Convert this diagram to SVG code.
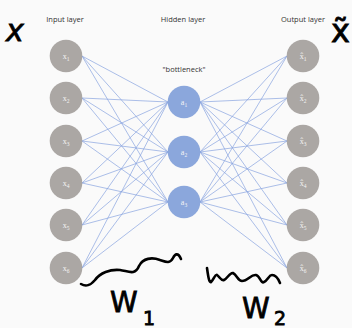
<svg xmlns="http://www.w3.org/2000/svg" width="352" height="328" viewBox="0 0 352 328">
<style>
.lbl{font-family:"Open Sans","Liberation Sans",sans-serif;font-size:7.5px;fill:#333;text-anchor:middle}
.in circle,.out circle{fill:#aba7a4}
.hid circle{fill:#8ba7dc}
.nt{font-family:"Liberation Serif",serif;font-size:8px;fill:#f4f4f4;text-anchor:middle}
.sub{font-size:5.5px}
#edges line{stroke:#88a4e0;stroke-width:0.7}
.hand{fill:none;stroke:#000;stroke-width:2.6;stroke-linecap:round;stroke-linejoin:round}
.ht{font-family:"DejaVu Sans",sans-serif;fill:#000;stroke:#000;stroke-width:0.8}
</style>
<rect width="352" height="328" fill="#fafafa"/>
<text class="lbl" x="65" y="22">Input layer</text>
<text class="lbl" x="183" y="22">Hidden layer</text>
<text class="lbl" x="303" y="22">Output layer</text>
<text class="lbl" x="184" y="72">"bottleneck"</text>
<g id="edges">
<line x1="82" y1="56" x2="168" y2="102"/><line x1="82" y1="56" x2="168" y2="152"/><line x1="82" y1="56" x2="168" y2="202"/>
<line x1="82" y1="98" x2="168" y2="102"/><line x1="82" y1="98" x2="168" y2="152"/><line x1="82" y1="98" x2="168" y2="202"/>
<line x1="82" y1="141" x2="168" y2="102"/><line x1="82" y1="141" x2="168" y2="152"/><line x1="82" y1="141" x2="168" y2="202"/>
<line x1="82" y1="183" x2="168" y2="102"/><line x1="82" y1="183" x2="168" y2="152"/><line x1="82" y1="183" x2="168" y2="202"/>
<line x1="82" y1="225" x2="168" y2="102"/><line x1="82" y1="225" x2="168" y2="152"/><line x1="82" y1="225" x2="168" y2="202"/>
<line x1="82" y1="268" x2="168" y2="102"/><line x1="82" y1="268" x2="168" y2="152"/><line x1="82" y1="268" x2="168" y2="202"/>
<line x1="200" y1="102" x2="287" y2="56"/><line x1="200" y1="152" x2="287" y2="56"/><line x1="200" y1="202" x2="287" y2="56"/>
<line x1="200" y1="102" x2="287" y2="98"/><line x1="200" y1="152" x2="287" y2="98"/><line x1="200" y1="202" x2="287" y2="98"/>
<line x1="200" y1="102" x2="287" y2="141"/><line x1="200" y1="152" x2="287" y2="141"/><line x1="200" y1="202" x2="287" y2="141"/>
<line x1="200" y1="102" x2="287" y2="183"/><line x1="200" y1="152" x2="287" y2="183"/><line x1="200" y1="202" x2="287" y2="183"/>
<line x1="200" y1="102" x2="287" y2="225"/><line x1="200" y1="152" x2="287" y2="225"/><line x1="200" y1="202" x2="287" y2="225"/>
<line x1="200" y1="102" x2="287" y2="268"/><line x1="200" y1="152" x2="287" y2="268"/><line x1="200" y1="202" x2="287" y2="268"/>
</g>
<g id="x1" class="in"><circle cx="66" cy="56" r="16.3"/><text class="nt" x="66" y="59">x<tspan class="sub" dy="2">1</tspan></text></g>
<g id="x2" class="in"><circle cx="66" cy="98" r="16.3"/><text class="nt" x="66" y="101">x<tspan class="sub" dy="2">2</tspan></text></g>
<g id="x3" class="in"><circle cx="66" cy="141" r="16.3"/><text class="nt" x="66" y="144">x<tspan class="sub" dy="2">3</tspan></text></g>
<g id="x4" class="in"><circle cx="66" cy="183" r="16.3"/><text class="nt" x="66" y="186">x<tspan class="sub" dy="2">4</tspan></text></g>
<g id="x5" class="in"><circle cx="66" cy="225" r="16.3"/><text class="nt" x="66" y="228">x<tspan class="sub" dy="2">5</tspan></text></g>
<g id="x6" class="in"><circle cx="66" cy="268" r="16.3"/><text class="nt" x="66" y="271">x<tspan class="sub" dy="2">6</tspan></text></g>
<g id="a1" class="hid"><circle cx="184" cy="102" r="16.3"/><text class="nt" x="184" y="105">a<tspan class="sub" dy="2">1</tspan></text></g>
<g id="a2" class="hid"><circle cx="184" cy="152" r="16.3"/><text class="nt" x="184" y="155">a<tspan class="sub" dy="2">2</tspan></text></g>
<g id="a3" class="hid"><circle cx="184" cy="202" r="16.3"/><text class="nt" x="184" y="205">a<tspan class="sub" dy="2">3</tspan></text></g>
<g id="y1" class="out"><circle cx="303" cy="56" r="16.3"/><text class="nt" x="303" y="59">x̂<tspan class="sub" dy="2">1</tspan></text></g>
<g id="y2" class="out"><circle cx="303" cy="98" r="16.3"/><text class="nt" x="303" y="101">x̂<tspan class="sub" dy="2">2</tspan></text></g>
<g id="y3" class="out"><circle cx="303" cy="141" r="16.3"/><text class="nt" x="303" y="144">x̂<tspan class="sub" dy="2">3</tspan></text></g>
<g id="y4" class="out"><circle cx="303" cy="183" r="16.3"/><text class="nt" x="303" y="186">x̂<tspan class="sub" dy="2">4</tspan></text></g>
<g id="y5" class="out"><circle cx="303" cy="225" r="16.3"/><text class="nt" x="303" y="228">x̂<tspan class="sub" dy="2">5</tspan></text></g>
<g id="y6" class="out"><circle cx="303" cy="268" r="16.3"/><text class="nt" x="303" y="271">x̂<tspan class="sub" dy="2">6</tspan></text></g>
<g id="annotations">
<text class="ht" x="6" y="41" font-size="30" font-style="italic">x</text>
<text class="ht" x="331" y="42" font-size="32">x̃</text>
<path class="hand" d="M81,284 C86,287 90,286 95,280 C100,273 110,269 120,270 C128,271 135,276 139,266 C143,258 152,257 160,260 C166,262 170,264 173,258 C175,254 178,252 181,259"/>
<path class="hand" d="M207,268 C208,275 209,283 211,282 C214,279 215,274 217,275 C220,277 221,281 224,280 C228,278 230,272 233,273 C237,275 238,281 242,281 C248,281 251,274 256,275 C260,276 261,284 264,282 C268,280 269,275 272,275 C276,275 278,278 280,283"/>
<text class="ht" x="110" y="312" font-size="28">W</text>
<text class="ht" x="143" y="325" font-size="19">1</text>
<text class="ht" x="242" y="318" font-size="28">W</text>
<text class="ht" x="274" y="325" font-size="19">2</text>
</g>
</svg>
